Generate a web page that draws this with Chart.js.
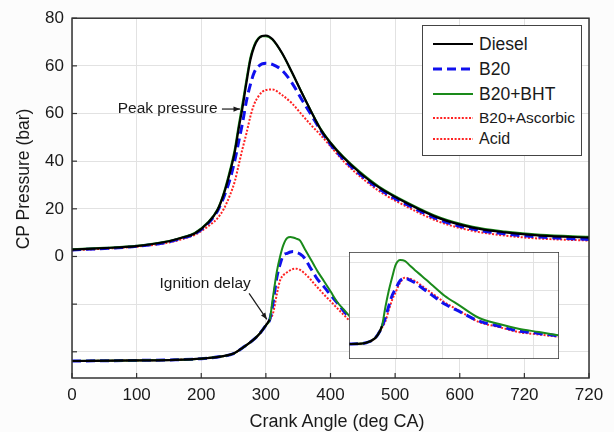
<!DOCTYPE html>
<html><head><meta charset="utf-8">
<script src="https://cdn.jsdelivr.net/npm/chart.js@4.4.1/dist/chart.umd.min.js"></script>
<style>
html,body{margin:0;padding:0;background:#fcfcfc;}
#wrap{position:relative;width:614px;height:432px;overflow:hidden;font-family:"Liberation Sans",Arial,sans-serif;color:#1a1a1a;}
#main{position:absolute;left:0;top:0;}
#inset{position:absolute;left:349px;top:252px;}
#legend{position:absolute;left:422px;top:25px;width:158px;height:129px;border:1.5px solid #444;background:#fff;}
.row{position:absolute;left:0;height:22px;line-height:22px;white-space:nowrap;}
.row svg{position:absolute;left:10px;top:8px;}
.row span{position:absolute;left:56px;top:0;}
.title{position:absolute;height:22px;line-height:22px;text-align:center;white-space:nowrap;font-size:18px;}
</style></head>
<body>
<div id="wrap">
<canvas id="main" width="614" height="432"></canvas>
<div id="legend"></div>
<canvas id="inset" width="210" height="107"></canvas>
<div class="title" id="ytitle" style="left:-77px;top:168px;width:200px;font-size:17.5px;transform:rotate(-90deg);">CP Pressure (bar)</div>
<div class="title" id="xtitle" style="left:237px;top:410px;width:200px;">Crank Angle (deg CA)</div>
</div>
<script>
// ---------- data ----------
const xTickValues = [0,100,200,300,400,500,600,700,800];
const xTickLabels = ['0','100','200','300','400','500','600','720','720'];
const yTickValues = [-32,-16,0,16,32,48,64,80];
const yTickLabels = ['','','0','20','40','60','60','80'];

// upper curves: cylinder pressure
const angleUpper = [0,50,100,150,170,190,210,225,235,245,252,258,264,270,276,282,288,294,300,310,325,340,355,370,385,400,420,445,475,520,570,620,670,725,800];
const dieselUpper = [2.3,2.8,3.5,5.1,6.3,7.7,11.2,15.5,21.0,28.7,35.2,43.0,50.2,58.4,66.0,70.5,73.0,74.0,74.2,73.0,68.3,62.0,55.2,48.7,42.6,38.1,33.2,28.2,23.2,17.7,12.7,9.7,8.1,7.0,6.35];
const bhtUpper = [2.4,2.9,3.6,5.2,6.4,7.9,11.4,15.8,21.5,29.5,36.2,44.2,51.6,59.5,66.8,71.0,73.2,73.9,73.9,72.8,68.2,61.9,55.3,48.8,42.8,38.3,33.5,28.5,23.5,18.0,13.0,10.0,8.4,7.3,6.6];
const b20Upper = [2.2,2.7,3.4,4.9,6.1,7.6,11.0,15.2,20.0,26.3,32.3,38.6,45.0,52.3,57.7,61.8,63.7,64.7,64.9,64.5,62.5,58.4,52.9,47.6,42.3,37.6,32.7,27.7,22.7,17.2,12.2,9.2,7.6,6.5,5.7];
const ascUpper = [2.1,2.6,3.3,4.7,5.8,7.3,10.0,12.8,16.0,20.9,25.3,30.8,36.3,41.4,47.0,51.2,53.6,55.2,55.9,56.1,54.2,51.5,47.8,44.1,40.7,37.0,32.0,27.0,22.0,16.5,11.5,8.6,7.0,6.0,5.35];

// lower curves: heat release (offset trace)
const angleLower = [0,100,160,200,230,250,265,280,290,300,306,311,317,322,327,333,338,342,347,353,360,368,375,380,390,400,410,420,430];
const dieselLower = [-35.1,-34.9,-34.7,-34.3,-33.6,-32.6,-30.5,-28.1,-26.0,-23.1,-21.2,null,null,null,null,null,null,null,null,null,null,null,null,null,null,null,null,null,null];
const bhtLower = [-35.1,-34.9,-34.7,-34.3,-33.6,-32.6,-30.5,-28.1,-26.0,-23.1,-21.2,-13.6,-5.0,0.0,3.8,6.2,6.5,6.35,6.0,5.3,2.6,-0.4,-3.1,-5.0,-8.3,-11.7,-15.2,-17.7,-20.2];
const b20Lower = [-35.1,-34.9,-34.7,-34.3,-33.6,-32.6,-30.5,-28.1,-26.0,-23.1,-21.2,-15.7,-7.0,-2.6,0.4,1.05,1.5,1.65,1.4,0.8,-0.6,-3.5,-6.0,-7.7,-10.2,-12.9,-15.5,-18.2,-20.8];
const ascLower = [-35.1,-34.9,-34.7,-34.3,-33.6,-32.6,-30.5,-28.1,-26.0,-23.1,-21.2,-19.1,-12.6,-8.0,-6.3,-5.3,-4.6,-4.2,-4.1,-4.5,-5.7,-7.4,-9.2,-10.4,-12.8,-15.0,-17.3,-19.5,-21.7];

// inset (zoomed heat release)
const angleInset = [278,285,292,301,305,307,310,313,316,319,323,327,332,336,342,350,362,375,392,410,427,445,462];
const dieselInset = [5.45,5.5,5.8,7.6,10.0,12.0,null,null,null,null,null,null,null,null,null,null,null,null,null,null,null,null,null];
const bhtInset = [5.45,5.5,5.8,7.6,10.0,12.0,18.9,24.9,29.8,34.2,36.0,35.7,33.8,32.3,30.2,27.3,23.0,19.5,15.0,12.7,11.0,9.8,8.6];
const b20Inset = [5.45,5.5,5.8,7.6,10.0,11.8,15.0,19.3,23.2,25.5,28.5,29.3,28.6,27.7,25.9,23.5,20.0,17.3,13.8,11.9,10.2,9.3,8.4];
const ascInset = [5.45,5.5,5.8,7.6,10.0,11.4,13.7,17.8,21.6,24.3,27.8,29.5,29.1,28.4,26.6,24.2,20.6,17.5,13.5,11.6,9.8,8.9,8.1];
const insetXTicks = [320,360,400,440];
const insetYTicks = [5,15,25,35];

const legendLabels = ['Diesel','B20','B20+BHT','B20+Ascorbic','Acid'];
const annotTexts = ['Peak pressure','Ignition delay'];
const annotAnchors = [[148,49.5],[206,-9.0]];
const annotArrows = [[[232,49.5],[260,49.5]],[[274,-12.4],[301.5,-21.1]]];

// ---------- styles ----------
const FONT = '"Liberation Sans", Arial, sans-serif';
const ST = {
  diesel:{borderColor:'#000000',borderWidth:2.2,borderDash:[]},
  b20:{borderColor:'#1010ee',borderWidth:3,borderDash:[9,5]},
  bht:{borderColor:'#1a8a1a',borderWidth:2,borderDash:[]},
  asc:{borderColor:'#ff2222',borderWidth:2,borderDash:[2,1.6]}
};
function ds(label, xs, ys, st){
  return Object.assign({label, data: xs.map((x,i)=>({x, y: ys[i]})), pointRadius:0, fill:false,
    cubicInterpolationMode:'monotone', spanGaps:false}, st);
}

// ---------- legend ----------
const legendStyles = [ST.diesel, ST.b20, ST.bht, ST.asc, ST.asc];
const legendRowY = [7,32,57,81,102];
const legendFont = [17.5,17.5,17.5,15.5,16];
const leg = document.getElementById('legend');
legendLabels.forEach((lab,i)=>{
  const s = legendStyles[i];
  const r = document.createElement('div');
  r.className='row'; r.style.top = legendRowY[i]+'px'; r.style.width='158px';
  const dash = s.borderDash.length ? `stroke-dasharray="${s.borderDash.join(',')}"` : '';
  r.innerHTML = `<svg width="40" height="6"><line x1="0" y1="3" x2="40" y2="3" stroke="${s.borderColor}" stroke-width="${s.borderWidth}" ${dash}/></svg><span style="font-size:${legendFont[i]}px">${lab}</span>`;
  leg.appendChild(r);
});

// ---------- plugins ----------
const framePlugin = {
  id:'frame',
  beforeDraw(chart){
    const {ctx, chartArea:a} = chart;
    ctx.save(); ctx.fillStyle='#ffffff'; ctx.fillRect(a.left,a.top,a.right-a.left,a.bottom-a.top); ctx.restore();
  },
  afterDraw(chart){
    const {ctx, chartArea:a, scales} = chart;
    ctx.save();
    ctx.strokeStyle='#333'; ctx.lineWidth=1.5;
    ctx.strokeRect(a.left,a.top,a.right-a.left,a.bottom-a.top);
    if (chart.options.plugins.frame && chart.options.plugins.frame.ticks){
      ctx.lineWidth=1.2;
      yTickValues.forEach(v=>{ const py=scales.y.getPixelForValue(v); ctx.beginPath(); ctx.moveTo(a.left,py); ctx.lineTo(a.left+5,py); ctx.stroke(); });
      xTickValues.forEach(v=>{ const px=scales.x.getPixelForValue(v); ctx.beginPath(); ctx.moveTo(px,a.bottom); ctx.lineTo(px,a.bottom-5); ctx.stroke(); });
    }
    ctx.restore();
  }
};
const annotPlugin = {
  id:'annot',
  afterDatasetsDraw(chart){
    if (!chart.options.plugins.annot || !chart.options.plugins.annot.on) return;
    const {ctx, scales:{x,y}} = chart;
    ctx.save();
    ctx.font = '15.5px '+FONT; ctx.fillStyle='#1a1a1a'; ctx.strokeStyle='#1a1a1a';
    ctx.textAlign='center'; ctx.textBaseline='middle';
    annotTexts.forEach((t,i)=>{
      ctx.fillText(t, x.getPixelForValue(annotAnchors[i][0]), y.getPixelForValue(annotAnchors[i][1]));
      const [p1,p2] = annotArrows[i];
      const x1=x.getPixelForValue(p1[0]), y1=y.getPixelForValue(p1[1]);
      const x2=x.getPixelForValue(p2[0]), y2=y.getPixelForValue(p2[1]);
      ctx.lineWidth=1.2; ctx.beginPath(); ctx.moveTo(x1,y1); ctx.lineTo(x2,y2); ctx.stroke();
      const ang=Math.atan2(y2-y1,x2-x1), L=7;
      ctx.beginPath(); ctx.moveTo(x2,y2);
      ctx.lineTo(x2-L*Math.cos(ang-0.38), y2-L*Math.sin(ang-0.38));
      ctx.lineTo(x2-L*Math.cos(ang+0.38), y2-L*Math.sin(ang+0.38));
      ctx.closePath(); ctx.fill();
    });
    ctx.restore();
  }
};

// ---------- main chart ----------
new Chart(document.getElementById('main'), {
  type:'line',
  data:{datasets:[
    ds('Diesel', angleUpper, dieselUpper, ST.diesel),
    ds('B20+BHT', angleUpper, bhtUpper, ST.bht),
    ds('B20', angleUpper, b20Upper, ST.b20),
    ds('B20+Ascorbic Acid', angleUpper, ascUpper, ST.asc),
    ds('Diesel', angleLower, dieselLower, ST.diesel),
    ds('B20+BHT', angleLower, bhtLower, ST.bht),
    ds('B20', angleLower, b20Lower, ST.b20),
    ds('B20+Ascorbic Acid', angleLower, ascLower, ST.asc)
  ]},
  options:{
    responsive:false, animation:false, devicePixelRatio:1,
    layout:{padding:{left:0,top:17,right:25,bottom:0}},
    plugins:{legend:{display:false}, tooltip:{enabled:false}, frame:{ticks:true}, annot:{on:true}},
    scales:{
      x:{type:'linear', min:0, max:800,
        afterBuildTicks:s=>{s.ticks = xTickValues.map(v=>({value:v}));},
        afterFit:s=>{s.height=54;},
        ticks:{callback:(v,i)=>xTickLabels[i], font:{size:17,family:FONT}, color:'#1a1a1a', padding:7, maxRotation:0, autoSkip:false},
        grid:{color:'#e2e2e2', lineWidth:1, drawTicks:false}, border:{display:false}},
      y:{type:'linear', min:-40.8, max:80,
        afterBuildTicks:s=>{s.ticks = yTickValues.map(v=>({value:v}));},
        afterFit:s=>{s.width=72;},
        ticks:{callback:(v,i)=>yTickLabels[i], font:{size:17,family:FONT}, color:'#1a1a1a', padding:8, autoSkip:false},
        grid:{color:'#e2e2e2', lineWidth:1, drawTicks:false}, border:{display:false}}
    }
  },
  plugins:[framePlugin, annotPlugin]
});

// ---------- inset chart ----------
new Chart(document.getElementById('inset'), {
  type:'line',
  data:{datasets:[
    ds('Diesel', angleInset, dieselInset, ST.diesel),
    ds('B20+BHT', angleInset, bhtInset, ST.bht),
    ds('B20', angleInset, b20Inset, ST.b20),
    ds('B20+Ascorbic Acid', angleInset, ascInset, ST.asc)
  ]},
  options:{
    responsive:false, animation:false, devicePixelRatio:1,
    layout:{padding:0},
    plugins:{legend:{display:false}, tooltip:{enabled:false}},
    scales:{
      x:{type:'linear', min:278, max:462.6,
        afterBuildTicks:s=>{s.ticks = insetXTicks.map(v=>({value:v}));},
        afterFit:s=>{s.height=0;},
        ticks:{display:false}, grid:{color:'#e2e2e2', drawTicks:false}, border:{display:false}},
      y:{type:'linear', min:0, max:38.9,
        afterBuildTicks:s=>{s.ticks = insetYTicks.map(v=>({value:v}));},
        afterFit:s=>{s.width=0;},
        ticks:{display:false}, grid:{color:'#e2e2e2', drawTicks:false}, border:{display:false}}
    }
  },
  plugins:[framePlugin]
});
</script>
</body></html>
